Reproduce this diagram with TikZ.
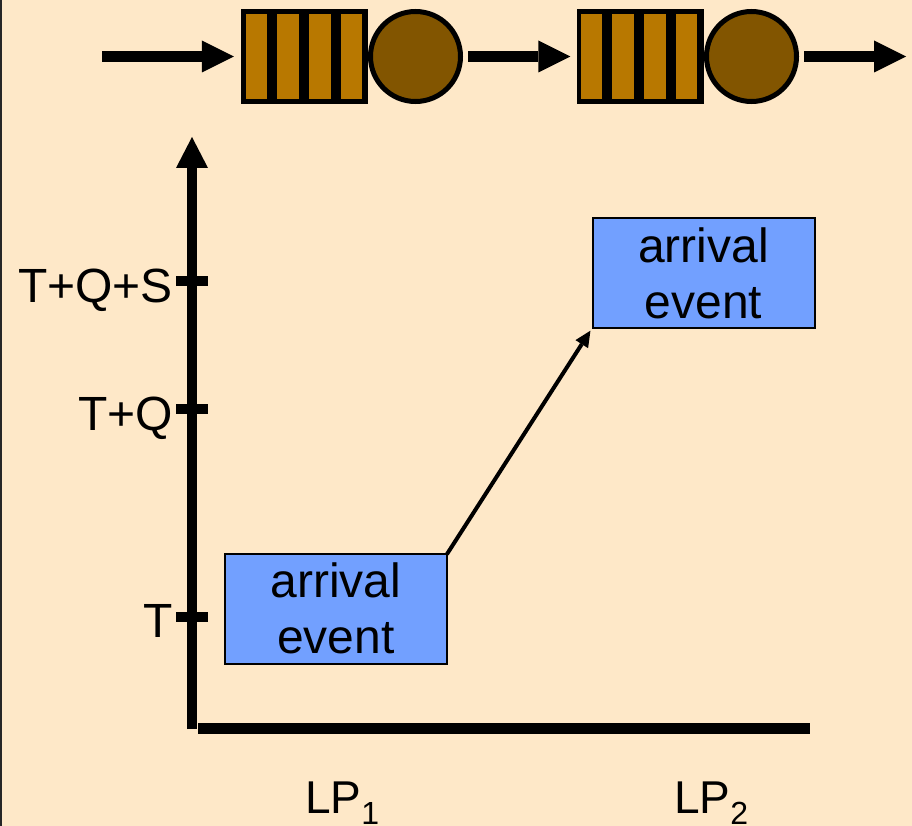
\documentclass[tikz,border=0pt]{standalone}
\usepackage{fontspec}
\setmainfont{Liberation Sans}
\usetikzlibrary{arrows.meta}
\definecolor{bg}{RGB}{254,232,200}
\definecolor{evblue}{RGB}{114,160,255}
\definecolor{stripecol}{RGB}{184,120,0}
\definecolor{srvbrown}{RGB}{130,85,0}
\begin{document}
\begin{tikzpicture}[x=1pt,y=-1pt,
  queuebox/.style={fill=black,minimum width=127pt,minimum height=95pt,inner sep=0pt},
  srvnode/.style={circle,draw=black,line width=5pt,fill=srvbrown,minimum size=90pt,inner sep=0pt},
  flowarrow/.style={line width=11pt,-{Triangle[length=32pt,width=32pt,line width=0pt]}},
  axisline/.style={line width=10pt},
  tick/.style={line width=10pt},
  ticklabel/.style={anchor=base east,inner sep=0pt,font=\fontsize{48}{56}\selectfont},
  eventbox/.style={draw=black,line width=2pt,fill=evblue,minimum width=222pt,minimum height=110pt,inner sep=0pt,align=center,font=\fontsize{48}{56}\selectfont},
  lplabel/.style={anchor=base west,inner sep=0pt,font=\fontsize{46}{52}\selectfont}
]
\useasboundingbox (0,0) rectangle (912,826);
\fill[bg] (0,0) rectangle (912,826);
\draw[line width=2pt,black!85] (1,0) -- (1,826);

% queueing network
\node[queuebox] (q1) at (304.5,56.5) {};
\node[queuebox] (q2) at (640,56.5) {};
\foreach \q/\x in {q1/245.5,q2/580.5}{
  \foreach \k in {0,1,2,3}{
    \fill[stripecol] ({\x+31.8*\k},14.5) rectangle ({\x+31.8*\k+21.5},99);
  }
}
\node[srvnode] (s1) at (415.5,56.5) {};
\node[srvnode] (s2) at (751.5,56.5) {};
\coordinate (in) at (102,56.5);
\coordinate (out) at (906,56.5);
\draw[flowarrow,shorten >=7pt] (in) -- (q1.west);
\draw[flowarrow,shorten <=5pt,shorten >=6pt] (s1.east) -- (q2.west);
\draw[flowarrow,shorten <=5pt] (s2.east) -- (out);

% axes
\coordinate (o) at (192,729);
\coordinate (ytop) at (192,137);
\coordinate (xo) at (198,728.5);
\coordinate (xend) at (810,728.5);
\draw[axisline,-{Triangle[length=31pt,width=32pt,line width=0pt]}] (o) -- (ytop);
\draw[line width=11pt] (xo) -- (xend);

% ticks
\foreach \y in {281,409,617}{
  \draw[tick] (176,\y) -- (208,\y);
}
\node[ticklabel] (l1) at (173,302) {T+Q+S};
\node[ticklabel] (l2) at (173,430) {T+Q};
\node[ticklabel] (l3) at (173,637) {T};

% events
\node[eventbox] (e1) at (336,608.5) {arrival\\event};
\node[eventbox] (e2) at (703.5,273) {arrival\\event};
\draw[line width=4pt,-{Triangle[length=16pt,width=15pt,line width=0pt]},shorten <=-2pt,shorten >=2pt] (e1.north east) -- (e2.south west);

% LP labels
\node[lplabel] (lp1) at (305,813) {LP\raisebox{-11pt}{\fontsize{32}{32}\selectfont 1}};
\node[lplabel] (lp2) at (674,813) {LP\raisebox{-11pt}{\fontsize{32}{32}\selectfont 2}};
\end{tikzpicture}
\end{document}
